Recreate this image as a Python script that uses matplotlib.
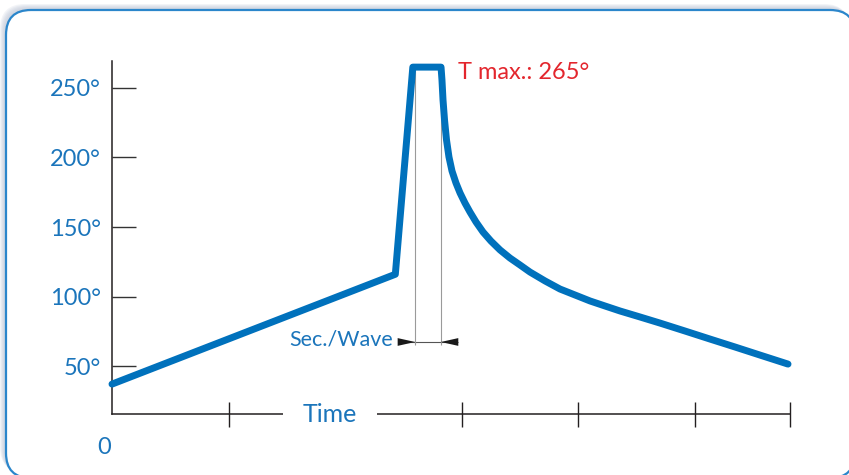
import matplotlib.pyplot as plt
from matplotlib.patches import FancyBboxPatch

# Perfil de temperatura (tiempo en divisiones del eje, temperatura en grados)
time = [0, 2.43, 2.58, 2.822, 2.830, 2.839, 2.852, 2.869, 2.890, 2.916, 2.950,
        2.985, 3.027, 3.070, 3.122, 3.182, 3.250, 3.328, 3.413, 3.499, 3.585,
        3.714, 3.842, 3.971, 4.100, 4.228, 4.357, 4.528, 4.700, 4.914, 5.129,
        5.343, 5.557, 5.798]
temp = [37, 116, 265, 265, 255.8, 241.4, 227.0, 212.6, 200.4, 190.3, 181.7,
        174.5, 167.3, 160.8, 153.6, 146.4, 139.9, 133.5, 127.7, 122.7, 117.6,
        111.2, 105.4, 101.1, 96.8, 93.2, 89.6, 85.3, 80.9, 75.2, 69.4,
        63.7, 57.9, 51.4]

y_ticks = [50, 100, 150, 200, 250]
y_labels = ['50°', '100°', '150°', '200°', '250°']
x_ticks = [1, 2, 3, 4, 5, 5.815]

t_max = 265
t_max_label = 'T max.: 265°'
wave = [2.60, 2.82]   # inicio / fin de la ola
dim_y = 67.3          # altura de la cota Sec./Wave

x_end = 5.815
y_base = 15.5
y_top = 269.4

BLUE = '#0071bc'
TXT = '#1b75bb'
RED = '#e3262d'

plt.rcParams['font.family'] = ['Lato', 'DejaVu Sans']

fig = plt.figure(figsize=(8.49, 4.75), dpi=100)

# Marco con esquinas redondeadas y sombra
bg = fig.add_axes([0, 0, 1, 1], zorder=0)
bg.set_xlim(0, 849)
bg.set_ylim(475, 0)
bg.axis('off')
for d in range(6, 0, -1):
    bg.add_patch(FancyBboxPatch((6 - d, 10 - d), 849, 468,
                                boxstyle='round,pad=0,rounding_size=25',
                                fc='#b9c2d4', ec='none', alpha=0.18))
bg.add_patch(FancyBboxPatch((6, 10), 849, 468,
                            boxstyle='round,pad=0,rounding_size=25',
                            fc='white', ec='#2b86cb', lw=1.6))

ax = fig.add_axes([112 / 849, 1 - 414 / 475, (790 - 112) / 849, (414 - 61) / 475],
                  zorder=1)
ax.patch.set_visible(False)

ax.plot(time, temp, color=BLUE, lw=5, solid_capstyle='round',
        solid_joinstyle='round', clip_on=False, zorder=4)

# Cota Sec./Wave
ax.vlines(wave, dim_y - 2.5, t_max, color='#9a9a9a', lw=0.8, zorder=3)
ax.hlines(dim_y, wave[0] - 0.15, wave[1] + 0.15, color='#555555', lw=0.8)
ax.annotate('', xy=(wave[0], dim_y), xytext=(wave[0] - 0.15, dim_y),
            arrowprops=dict(arrowstyle='wedge,tail_width=0.35', fc='#1a1a1a',
                            ec='none', shrinkA=0, shrinkB=0, mutation_scale=16))
ax.annotate('', xy=(wave[1], dim_y), xytext=(wave[1] + 0.15, dim_y),
            arrowprops=dict(arrowstyle='wedge,tail_width=0.35', fc='#1a1a1a',
                            ec='none', shrinkA=0, shrinkB=0, mutation_scale=16))
ax.text(wave[0] - 0.19, dim_y + 2, 'Sec./Wave', ha='right', va='center',
        fontsize=15.5, color=TXT)

ax.text(2.97, 261, t_max_label, ha='left', va='center', fontsize=17, color=RED)

# Ejes
ax.set_xlim(0, x_end)
ax.set_ylim(y_base, y_top)
for s in ['top', 'right']:
    ax.spines[s].set_visible(False)
for s in ['left', 'bottom']:
    ax.spines[s].set_color('#231f20')
    ax.spines[s].set_linewidth(1.1)

ax.set_yticks(y_ticks, y_labels)
ax.tick_params(axis='y', direction='in', length=17, width=1, color='#333333',
               labelcolor=TXT, labelsize=17, pad=8)
ax.set_xticks(x_ticks, [''] * len(x_ticks))
ax.tick_params(axis='x', direction='inout', length=18, width=1, color='#231f20')

ax.text(1.87, y_base, 'Time', ha='center', va='center', fontsize=18, color=TXT,
        zorder=5, bbox=dict(fc='white', ec='none', pad=14))
ax.text(-0.07, -8.3, '0', ha='center', va='center', fontsize=17, color=TXT,
        clip_on=False)

plt.savefig('out.png', dpi=100)
